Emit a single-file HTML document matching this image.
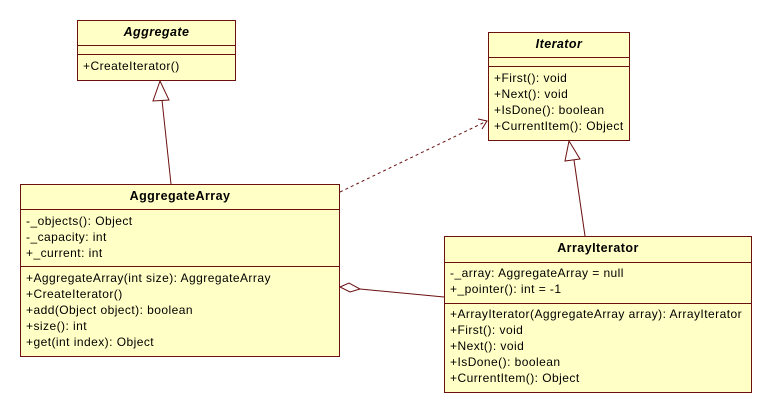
<!DOCTYPE html>
<html><head><meta charset="utf-8"><style>
body{margin:0;width:772px;height:413px;background:#fff;overflow:hidden;position:relative;font-family:"Liberation Sans",sans-serif;font-size:12px;letter-spacing:0.45px;color:#000}
.b{position:absolute;background:#ffffc6;border:1px solid #6b0f0f;box-sizing:border-box}
.s{position:absolute;left:0;right:0;border-top:1px solid #6b0f0f}
.t{position:absolute;left:0;right:0;text-align:center;font-weight:bold;font-size:12.5px}
.l{position:absolute;left:6px;white-space:nowrap;line-height:16px}
svg{position:absolute;left:0;top:0}
</style></head><body>
<div class="b" style="left:77px;top:20px;width:159px;height:61px">
<div class="t" style="top:4px;font-style:italic">Aggregate</div>
<div class="s" style="top:24px"></div><div class="s" style="top:33px"></div>
<div class="l" style="top:37px;left:5px">+CreateIterator()</div></div>

<div class="b" style="left:488px;top:32px;width:142px;height:109px">
<div class="t" style="top:4px;font-style:italic">Iterator</div>
<div class="s" style="top:24px"></div><div class="s" style="top:33px"></div>
<div class="l" style="top:37px;left:5px">+First(): void<br>+Next(): void<br>+IsDone(): boolean<br>+CurrentItem(): Object</div></div>

<div class="b" style="left:20px;top:184px;width:320px;height:173px">
<div class="t" style="top:4px">AggregateArray</div>
<div class="s" style="top:24px"></div>
<div class="l" style="top:28px;left:5px">-_objects(): Object<br>-_capacity: int<br>+_current: int</div>
<div class="s" style="top:81px"></div>
<div class="l" style="top:85px;left:5px">+AggregateArray(int size): AggregateArray<br>+CreateIterator()<br>+add(Object object): boolean<br>+size(): int<br>+get(int index): Object</div></div>

<div class="b" style="left:444px;top:236px;width:308px;height:157px">
<div class="t" style="top:4px">ArrayIterator</div>
<div class="s" style="top:25px"></div>
<div class="l" style="top:28px;left:5px">-_array: AggregateArray = null<br>+_pointer(): int = -1</div>
<div class="s" style="top:66px"></div>
<div class="l" style="top:69px;left:5px">+ArrayIterator(AggregateArray array): ArrayIterator<br>+First(): void<br>+Next(): void<br>+IsDone(): boolean<br>+CurrentItem(): Object</div></div>

<svg width="772" height="413">
<g stroke="#6b0f0f" fill="none" stroke-width="1">
<line x1="171" y1="184" x2="162" y2="100"/>
<polygon points="160,81 153,101 169,100" fill="#fff"/>
<line x1="585" y1="236" x2="574" y2="160"/>
<polygon points="569,141 565,161 580,159" fill="#fff"/>
<line x1="340" y1="192" x2="487" y2="121" stroke-dasharray="3,3"/>
<polyline points="478,119 487,121 482,129"/>
<polygon points="340,287 349,283 360,289 350,292" fill="#fff"/>
<line x1="360" y1="289" x2="444" y2="297"/>
</g></svg>
</body></html>
